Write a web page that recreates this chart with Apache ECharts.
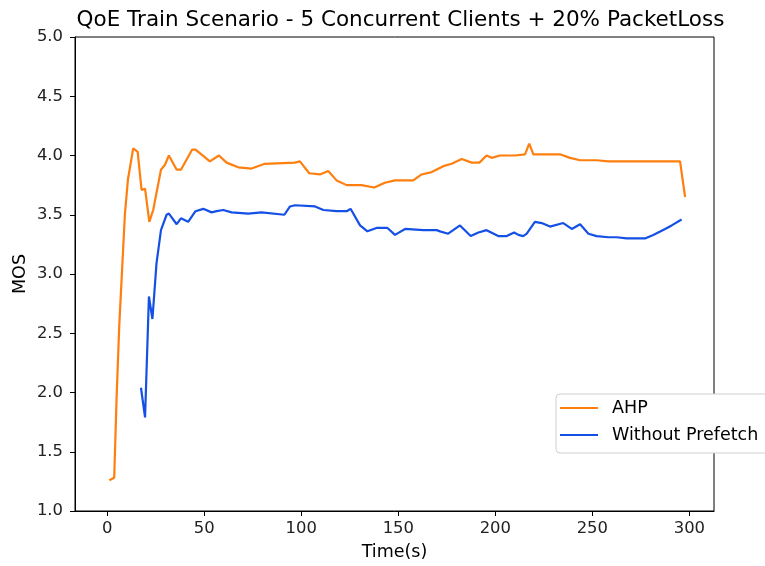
<!DOCTYPE html>
<html>
<head>
<meta charset="utf-8">
<script src="https://cdn.jsdelivr.net/npm/echarts@6/dist/echarts.min.js"></script>
<style>html,body{margin:0;padding:0;background:#fff;overflow:hidden}#c{width:765px;height:566px}</style>
</head>
<body>
<div id="c"></div>
<script>
const titleText = 'QoE Train Scenario - 5 Concurrent Clients + 20% PacketLoss';
const seriesNames = ['AHP', 'Without Prefetch'];
const xTicks = [0, 50, 100, 150, 200, 250, 300];
const ahpX = [1.1,3.6,4.8,6.2,7.4,9.1,10.7,13.4,15.7,17.7,19.5,21.7,23.7,27.7,29.7,31.8,35.8,38.0,43.8,45.5,52.9,57.6,61.5,67.5,74.4,81.2,96.8,99.3,104.1,109.6,113.9,118.2,123.4,131.1,137.6,143.1,148.3,157.7,162.0,167.2,173.2,177.5,182.7,187.8,191.8,195.5,198.1,202.4,210.2,215.3,217.5,219.6,233.3,238.5,243.7,252.2,258.2,295.2,297.8];
const ahpY = [1.26,1.28,1.94,2.56,2.95,3.5,3.8,4.06,4.03,3.71,3.72,3.44,3.54,3.88,3.92,4.00,3.88,3.88,4.05,4.05,3.95,4.00,3.94,3.90,3.89,3.93,3.94,3.95,3.85,3.84,3.87,3.79,3.75,3.75,3.73,3.77,3.79,3.79,3.84,3.86,3.91,3.93,3.97,3.94,3.94,4.00,3.98,4.00,4.00,4.01,4.10,4.01,4.01,3.98,3.96,3.96,3.95,3.95,3.65];
const npX = [17.4,19.5,21.5,23.3,25.4,27.7,30.6,31.8,35.8,38.0,41.7,45.5,49.5,53.8,56.4,59.8,64.1,72.7,79.5,91.3,94.2,96.8,107.1,111.4,118.2,123.4,125.4,130.3,134.1,139.1,144.3,148.3,153.5,162.9,169.8,171.5,175.7,181.8,187.3,191.3,195.5,201.5,205.9,209.7,211.9,214.4,216.2,220.4,223.9,228.2,235.0,239.4,243.7,248.0,252.2,258.2,262.5,267.7,277.1,281.4,287.5,290.9,296.0];
const npY = [2.04,1.79,2.81,2.62,3.09,3.37,3.50,3.51,3.42,3.47,3.44,3.53,3.55,3.52,3.53,3.54,3.52,3.51,3.52,3.50,3.57,3.58,3.57,3.54,3.53,3.53,3.55,3.41,3.36,3.39,3.39,3.33,3.38,3.37,3.37,3.36,3.34,3.41,3.32,3.35,3.37,3.32,3.32,3.35,3.33,3.32,3.34,3.44,3.43,3.40,3.43,3.38,3.42,3.34,3.32,3.31,3.31,3.30,3.30,3.33,3.38,3.41,3.46];

const zip = (xs, ys) => xs.map((x, i) => [x, ys[i]]);
const font = 'DejaVu Sans';
const chart = echarts.init(document.getElementById('c'), null, {renderer: 'canvas'});
chart.setOption({
  animation: false,
  backgroundColor: '#fff',
  title: {
    text: titleText, left: 395.5, textAlign: 'center', top: 4,
    textStyle: {fontFamily: font, fontSize: 21.5, fontWeight: 'normal', color: '#000'}
  },
  legend: {
    data: seriesNames, orient: 'vertical', left: 556, top: 394,
    icon: 'rect', itemWidth: 38, itemHeight: 2, itemGap: 9,
    backgroundColor: '#fff', borderColor: '#d0d0d0', borderWidth: 1, borderRadius: 4,
    padding: [5, 20, 9, 4],
    textStyle: {fontFamily: font, fontSize: 17.5, color: '#000', padding: [0, 0, 0, 9]}
  },
  grid: {left: 75, right: 51, top: 37, bottom: 55, show: true, borderColor: '#000', borderWidth: 1, containLabel: false},
  xAxis: {
    type: 'value', min: -16.6, max: 312.7,
    name: 'Time(s)', nameLocation: 'middle', nameGap: 32,
    nameTextStyle: {fontFamily: font, fontSize: 17.5, color: '#000'},
    splitLine: {show: false},
    axisLine: {show: true, onZero: false, lineStyle: {color: '#000', width: 1}},
    axisTick: {show: true, length: 5, lineStyle: {color: '#000'}, customValues: xTicks},
    axisLabel: {fontFamily: font, fontSize: 16.4, color: '#222', margin: 10, customValues: xTicks}
  },
  yAxis: {
    type: 'value', min: 1, max: 5, interval: 0.5,
    name: 'MOS', nameLocation: 'middle', nameGap: 46, nameMoveOverlap: false,
    nameTextStyle: {fontFamily: font, fontSize: 17.5, color: '#000'},
    splitLine: {show: false},
    axisLine: {show: true, onZero: false, lineStyle: {color: '#000', width: 1}},
    axisTick: {show: true, length: 5, lineStyle: {color: '#000'}},
    axisLabel: {fontFamily: font, fontSize: 16.4, color: '#222', margin: 12, formatter: v => v.toFixed(1)}
  },
  series: [
    {name: seriesNames[0], type: 'line', data: zip(ahpX, ahpY), showSymbol: false, symbol: 'none',
     itemStyle: {color: '#ff7f0e'}, lineStyle: {color: '#ff7f0e', width: 2.2}},
    {name: seriesNames[1], type: 'line', data: zip(npX, npY), showSymbol: false, symbol: 'none',
     itemStyle: {color: '#1450e6'}, lineStyle: {color: '#1450e6', width: 2.2}}
  ]
});
</script>
</body>
</html>
